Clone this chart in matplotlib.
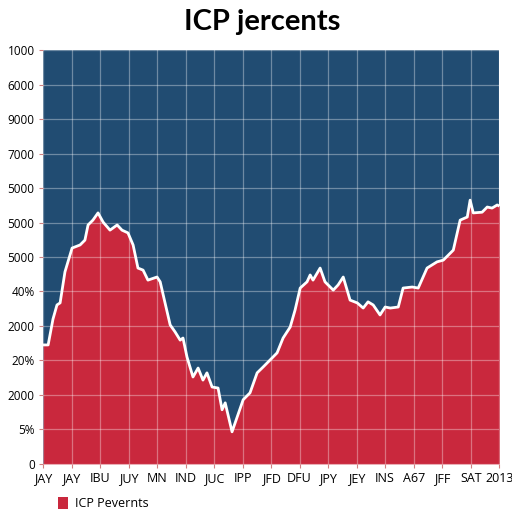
import matplotlib
matplotlib.use("Agg")
import matplotlib.pyplot as plt
from matplotlib.patches import Patch

title = "ICP jercents"
series_name = "ICP Pevernts"
x_labels = ["JAY", "JAY", "IBU", "JUY", "MN", "IND", "JUC", "IPP", "JFD",
            "DFU", "JPY", "JEY", "INS", "A67", "JFF", "SAT", "2013"]
y_labels = ["0", "5%", "2000", "20%", "2000", "40%", "5000", "5000",
            "5000", "7000", "9000", "6000", "1000"]

x_pos = [0, 0.18, 0.35, 0.49, 0.60, 0.77, 1.02, 1.30, 1.47, 1.58, 1.75, 1.93,
         2.11, 2.35, 2.60, 2.77, 2.98, 3.16, 3.33, 3.51, 3.68, 4.00, 4.11,
         4.28, 4.46, 4.63, 4.81, 4.91, 5.05, 5.26, 5.44, 5.61, 5.75, 5.93,
         6.14, 6.28, 6.39, 6.63, 6.81, 7.02, 7.26, 7.51, 7.72, 7.96, 8.21,
         8.42, 8.67, 8.84, 9.02, 9.26, 9.37, 9.47, 9.72, 9.89, 10.18, 10.35,
         10.53, 10.77, 11.02, 11.23, 11.40, 11.58, 11.82, 12.00, 12.18, 12.46,
         12.63, 12.95, 13.16, 13.47, 13.82, 14.04, 14.39, 14.63, 14.88, 14.98,
         15.09, 15.40, 15.58, 15.75, 15.93, 16.0]
values = [3.45, 3.45, 4.20, 4.61, 4.67, 5.57, 6.26, 6.35, 6.49, 6.93, 7.07, 7.28,
          7.01, 6.78, 6.93, 6.78, 6.70, 6.35, 5.68, 5.62, 5.33, 5.42, 5.28,
          4.67, 4.03, 3.83, 3.59, 3.65, 3.10, 2.52, 2.78, 2.43, 2.64, 2.23,
          2.20, 1.57, 1.77, 0.93, 1.36, 1.86, 2.06, 2.64, 2.81, 3.01, 3.22,
          3.65, 3.97, 4.46, 5.10, 5.28, 5.48, 5.33, 5.68, 5.28, 5.04, 5.19,
          5.42, 4.75, 4.67, 4.52, 4.70, 4.61, 4.32, 4.55, 4.52, 4.55,
          5.10, 5.13, 5.10, 5.68, 5.86, 5.91, 6.20, 7.07, 7.16, 7.65,
          7.28, 7.30, 7.45, 7.42, 7.51, 7.48]

bg = "#214c72"
red = "#c9283d"

fig = plt.figure(figsize=(5.12, 5.12), dpi=100)
ax = fig.add_axes([0.084, 0.094, 0.891, 0.808])
ax.set_facecolor(bg)
ax.fill_between(x_pos, values, 0, color=red, zorder=1, linewidth=0)
ax.plot(x_pos, values, color="white", linewidth=2.0, zorder=3)

ax.set_xlim(0, 16)
ax.set_ylim(0, 12)
ax.set_xticks(range(17))
ax.set_xticklabels(x_labels, fontsize=9, family="Open Sans")
ax.set_yticks(range(13))
ax.set_yticklabels(y_labels, fontsize=8.5, family="Open Sans")
ax.grid(True, color="white", alpha=0.35, linewidth=0.9)
ax.set_axisbelow(False)
for s in ax.spines.values():
    s.set_visible(False)
ax.tick_params(axis="both", length=3, color="#d08080", pad=3)

fig.text(0.512, 0.957, title, ha="center", va="center", fontsize=21,
         fontweight="bold", family="Lato")

fig.legend(handles=[Patch(facecolor=red, label=series_name)],
           loc="center left", bbox_to_anchor=(0.092, 0.016), frameon=False,
           handlelength=0.8, handleheight=1.1, handletextpad=0.5,
           prop={"family": "Open Sans", "size": 9})

fig.savefig("out.png", dpi=100)
